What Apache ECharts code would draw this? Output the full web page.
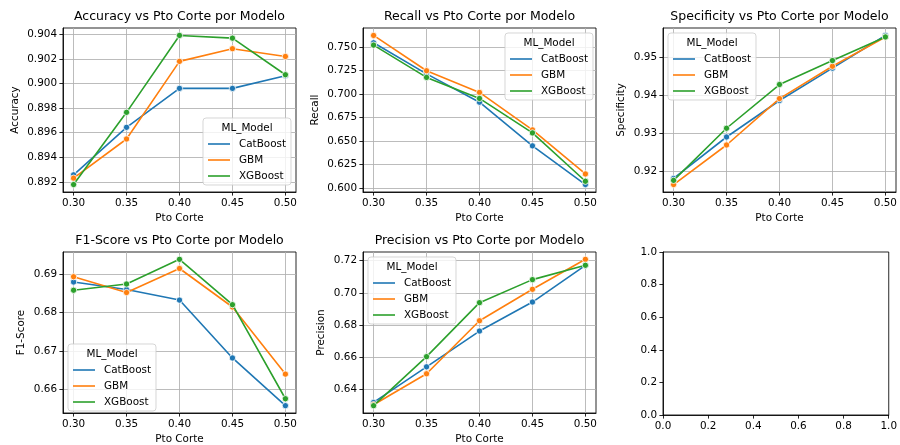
<!DOCTYPE html>
<html><head><meta charset="utf-8">
<script src="https://cdn.jsdelivr.net/npm/echarts@6/dist/echarts.min.js"></script>
<style>html,body{margin:0;padding:0;background:#fff}#c{width:900px;height:445px}</style>
</head><body><div id="c"></div>
<script>
const cutoffs = [0.30, 0.35, 0.40, 0.45, 0.50];
const models = ['CatBoost', 'GBM', 'XGBoost'];

const accCat = [0.89257, 0.89644, 0.89961, 0.89961, 0.90064];
const accGbm = [0.89230, 0.89549, 0.90181, 0.90284, 0.90221];
const accXgb = [0.89178, 0.89766, 0.90392, 0.90370, 0.90072];

const recCat = [0.7546, 0.7215, 0.6913, 0.6448, 0.6036];
const recGbm = [0.7624, 0.7248, 0.7017, 0.6618, 0.6149];
const recXgb = [0.7521, 0.7177, 0.6953, 0.6586, 0.6071];

const speCat = [0.9182, 0.9291, 0.9387, 0.9472, 0.9558];
const speGbm = [0.9166, 0.9270, 0.9392, 0.9477, 0.9554];
const speXgb = [0.9177, 0.9314, 0.9429, 0.9492, 0.9554];

const f1Cat = [0.68802, 0.68605, 0.68330, 0.66817, 0.65570];
const f1Gbm = [0.68940, 0.68527, 0.69155, 0.68149, 0.66395];
const f1Xgb = [0.68587, 0.68750, 0.69395, 0.68209, 0.65751];

const preCat = [0.6320, 0.6541, 0.6763, 0.6943, 0.7171];
const preGbm = [0.6306, 0.6498, 0.6827, 0.7022, 0.7208];
const preXgb = [0.6300, 0.6604, 0.6939, 0.7082, 0.7171];

const xTicks = [0.30, 0.35, 0.40, 0.45, 0.50];
const accTicks = [0.892, 0.894, 0.896, 0.898, 0.900, 0.902, 0.904];
const recTicks = [0.600, 0.625, 0.650, 0.675, 0.700, 0.725, 0.750];
const speTicks = [0.92, 0.93, 0.94, 0.95];
const f1Ticks = [0.66, 0.67, 0.68, 0.69];
const preTicks = [0.64, 0.66, 0.68, 0.70, 0.72];

const FONT = 'DejaVu Sans';
const FS = 10.4, TFS = 12.5;
const colors = ['#1f77b4', '#ff7f0e', '#2ca02c'];

function autoRange(arrs) {
  const all = [].concat(...arrs);
  const mn = Math.min(...all), mx = Math.max(...all);
  const r = mx - mn;
  return [mn - 0.05 * r, mx + 0.05 * r];
}

const panels = [
  {title: 'Accuracy vs Pto Corte por Modelo', yName: 'Accuracy', data: [accCat, accGbm, accXgb], ticks: accTicks, dec: 3, left: 63, top: 28, h: 164, nameGap: 43, leg: [203, 118]},
  {title: 'Recall vs Pto Corte por Modelo', yName: 'Recall', data: [recCat, recGbm, recXgb], ticks: recTicks, dec: 3, left: 363, top: 28, h: 164, nameGap: 43, leg: [505, 33]},
  {title: 'Specificity vs Pto Corte por Modelo', yName: 'Specificity', data: [speCat, speGbm, speXgb], ticks: speTicks, dec: 2, left: 663, top: 28, h: 164, nameGap: 37, leg: [668, 33]},
  {title: 'F1-Score vs Pto Corte por Modelo', yName: 'F1-Score', data: [f1Cat, f1Gbm, f1Xgb], ticks: f1Ticks, dec: 2, left: 63, top: 252, h: 163, nameGap: 37, leg: [68, 344]},
  {title: 'Precision vs Pto Corte por Modelo', yName: 'Precision', data: [preCat, preGbm, preXgb], ticks: preTicks, dec: 2, left: 363, top: 252, h: 163, nameGap: 37, leg: [368, 257]}
];
const W = 233;

const grid = [], xAxis = [], yAxis = [], series = [], legend = [], graphic = [];
const xr = autoRange([cutoffs]);
const txt = {fontFamily: FONT, fontSize: FS, color: '#000'};

function axisCommon() {
  return {
    axisLine: {show: true, onZero: false, lineStyle: {color: '#000', width: 0.85}},
    axisTick: {show: true, length: 3.6, lineStyle: {color: '#000', width: 0.85}},
  };
}

panels.forEach((p, i) => {
  grid.push({left: p.left, top: p.top, width: W, height: p.h, show: true, borderColor: '#000', borderWidth: 0.85, backgroundColor: 'transparent', containLabel: false});
  const ax = axisCommon();
  xAxis.push({
    type: 'value', gridIndex: i, min: xr[0], max: xr[1],
    name: 'Pto Corte', nameLocation: 'middle', nameGap: 21, nameTextStyle: txt,
    axisLine: ax.axisLine,
    axisTick: Object.assign({customValues: xTicks}, ax.axisTick),
    axisLabel: Object.assign({customValues: xTicks, margin: 6, formatter: v => v.toFixed(2)}, txt),
    splitLine: {show: true, lineStyle: {color: '#b0b0b0', width: 0.85}}
  });
  const yr = autoRange(p.data);
  const ay = axisCommon();
  yAxis.push({
    type: 'value', gridIndex: i, min: yr[0], max: yr[1],
    name: p.yName, nameLocation: 'middle', nameGap: p.nameGap, nameTextStyle: txt,
    axisLine: ay.axisLine,
    axisTick: Object.assign({customValues: p.ticks}, ay.axisTick),
    axisLabel: Object.assign({customValues: p.ticks, margin: 6, formatter: v => v.toFixed(p.dec)}, txt),
    splitLine: {show: true, lineStyle: {color: '#b0b0b0', width: 0.85}}
  });
  p.data.forEach((vals, k) => {
    series.push({
      type: 'line', name: models[k], xAxisIndex: i, yAxisIndex: i,
      data: cutoffs.map((x, j) => [x, vals[j]]),
      symbol: 'circle', symbolSize: 6.3, showSymbol: true,
      lineStyle: {color: colors[k], width: 1.6},
      itemStyle: {color: colors[k], borderColor: '#fff', borderWidth: 0.8},
      emphasis: {disabled: true}, z: 2 + k * 0.01
    });
  });
  legend.push({
    data: models, left: p.leg[0] + 5, top: p.leg[1] + 18, orient: 'vertical',
    icon: 'rect', itemWidth: 22, itemHeight: 1.6, itemGap: 0, padding: 0,
    selectedMode: false, itemStyle: {borderWidth: 0},
    textStyle: {fontFamily: FONT, fontSize: FS, color: '#000', lineHeight: 16, padding: [0, 0, 0, 4]}, z: 6
  });
  graphic.push({type: 'rect', z: 5, shape: {x: p.leg[0], y: p.leg[1], width: 88, height: 67, r: 3},
    style: {fill: 'rgba(255,255,255,0.8)', stroke: 'rgba(204,204,204,0.8)', lineWidth: 1}});
  graphic.push({type: 'text', z: 7, style: {text: 'ML_Model', x: p.leg[0] + 44, y: p.leg[1] + 10, textAlign: 'center', textVerticalAlign: 'middle', font: FS + 'px "DejaVu Sans"', fill: '#000'}});
  graphic.push({type: 'text', z: 7, style: {text: p.title, x: p.left + W / 2, y: p.top - 11, textAlign: 'center', textVerticalAlign: 'middle', font: TFS + 'px "DejaVu Sans"', fill: '#000'}});
});

// empty sixth panel
grid.push({left: 663, top: 252, width: W, height: 163, show: true, borderColor: '#000', borderWidth: 0.85, backgroundColor: 'transparent'});
const ex = axisCommon(), ey = axisCommon();
xAxis.push({type: 'value', gridIndex: 5, min: 0, max: 1, interval: 0.2,
  axisLine: ex.axisLine, axisTick: ex.axisTick,
  axisLabel: Object.assign({margin: 6, formatter: v => v.toFixed(1), showMaxLabel: true}, txt),
  splitLine: {show: false}});
yAxis.push({type: 'value', gridIndex: 5, min: 0, max: 1, interval: 0.2,
  axisLine: ey.axisLine, axisTick: ey.axisTick,
  axisLabel: Object.assign({margin: 6, formatter: v => v.toFixed(1)}, txt),
  splitLine: {show: false}});

const chart = echarts.init(document.getElementById('c'), null, {renderer: 'canvas'});
chart.setOption({animation: false, backgroundColor: '#fff', grid, xAxis, yAxis, series, legend, graphic});
</script></body></html>
